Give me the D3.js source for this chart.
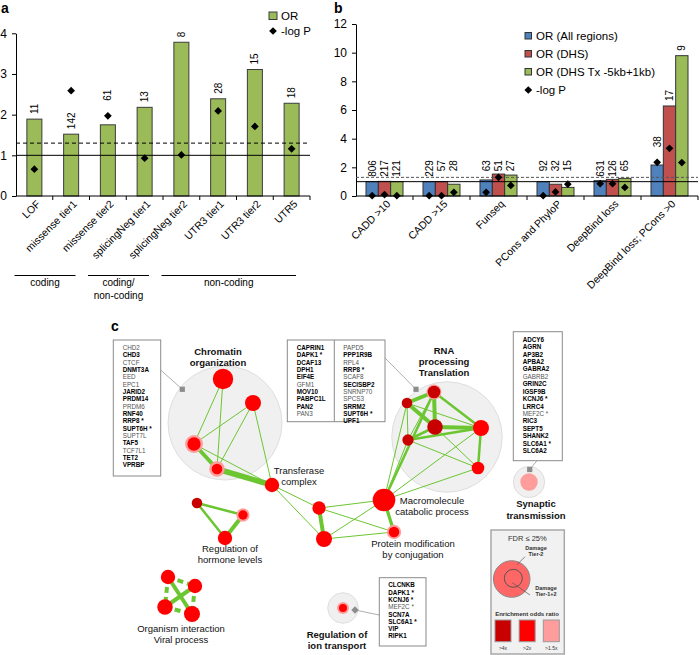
<!DOCTYPE html>
<html>
<head>
<meta charset="utf-8">
<script src="https://cdn.jsdelivr.net/npm/d3@7"></script>
<style>
body { margin: 0; background: #fff; }
text { font-family: "Liberation Sans", Arial, sans-serif; }
</style>
</head>
<body>
<script>
const width = 700;
const height = 655;

// ---------- panel a data
const catsA = ["LOF", "missense tier1", "missense tier2", "splicingNeg tier1", "splicingNeg tier2", "UTR3 tier1", "UTR3 tier2", "UTR5"];
const orA = [1.89, 1.52, 1.75, 2.18, 3.78, 2.39, 3.11, 2.28];
const logpA = [0.66, 2.59, 1.97, 0.93, 1.01, 2.09, 1.71, 1.16];
const countA = [11, 142, 61, 13, 8, 28, 15, 18];
const groupLabelsA = [["coding"], ["coding/", "non-coding"], ["non-coding"]];
const groupSpanA = [[0, 1], [2, 3], [4, 7]];

// ---------- panel b data
const catsB = ["CADD >10", "CADD >15", "Funseq", "PCons and PhyloP", "DeepBind loss", "DeepBind loss; PCons >0"];
const seriesB = ["OR (All regions)", "OR (DHS)", "OR (DHS Tx -5kb+1kb)"];
const orAll = [1.0, 1.0, 1.12, 1.0, 1.07, 2.16];
const orDHS = [1.02, 1.0, 1.53, 0.82, 1.16, 6.28];
const orTx = [1.0, 0.82, 1.46, 0.6, 1.23, 9.79];
const logpAll = [0.02, 0.02, 0.26, 0.02, 0.86, 2.35];
const logpDHS = [0.1, 0.02, 1.3, 0.28, 0.86, 3.33];
const logpTx = [0.02, 0.26, 0.74, 0.82, 0.6, 2.33];
const countAll = [806, 229, 63, 92, 631, 38];
const countDHS = [217, 57, 51, 32, 126, 17];
const countTx = [121, 28, 27, 15, 65, 9];

// reference lines: OR = 1, -log P = 1.3 (P = 0.05)
const refLines = [1, 1.3];

// ---------- panel c data (network layout units, gene counts, enrichment class)
const nodes = [
  {id: "c1", x: 123, y: 69, n: 26, col: "2x"},
  {id: "c2", x: 153, y: 93, n: 16, col: "2x"},
  {id: "c3", x: 94, y: 134, n: 11, col: "2x", n2: 20, col2: "1.5x"},
  {id: "c4", x: 117, y: 159, n: 7, col: "2x", n2: 15, col2: "1.5x"},
  {id: "t1", x: 172, y: 175, n: 13, col: "2x"},
  {id: "r1", x: 334, y: 82, n: 10, col: "4x", n2: 14, col2: "1.5x"},
  {id: "r2", x: 307, y: 93, n: 7, col: "4x"},
  {id: "r3", x: 335, y: 117, n: 15, col: "4x"},
  {id: "r4", x: 308, y: 130, n: 8, col: "4x"},
  {id: "r5", x: 381, y: 118, n: 16, col: "2x"},
  {id: "r6", x: 378, y: 158, n: 10, col: "2x"},
  {id: "m1", x: 284, y: 190, n: 32, col: "2x"},
  {id: "p1", x: 219, y: 198, n: 11, col: "2x"},
  {id: "p2", x: 224, y: 229, n: 16, col: "2x"},
  {id: "pm", x: 294, y: 222, n: 7, col: "2x", n2: 13, col2: "1.5x"},
  {id: "h1", x: 97, y: 193, n: 7, col: "4x"},
  {id: "h2", x: 143, y: 205, n: 5.5, col: "2x", n2: 11, col2: "1.5x"},
  {id: "h3", x: 125, y: 228, n: 13, col: "2x"},
  {id: "o1", x: 68, y: 267, n: 13, col: "2x"},
  {id: "o2", x: 95, y: 276, n: 13, col: "2x"},
  {id: "o3", x: 65, y: 297, n: 15, col: "2x"},
  {id: "o4", x: 92, y: 304, n: 16, col: "2x"},
  {id: "i1", x: 243, y: 298, n: 4, col: "2x", n2: 9, col2: "1.5x"},
  {id: "s1", x: 429, y: 172, n: 19, col: "1.5x"}
];
// [source, target, overlap weight, dashed]
const links = [
  ["c1", "c3", 1], ["c1", "c4", 1], ["c2", "c3", 1], ["c2", "c4", 1], ["c2", "t1", 1],
  ["c3", "c4", 3], ["c4", "t1", 4], ["c3", "t1", 1],
  ["t1", "p1", 1], ["t1", "p2", 1], ["p1", "p2", 3], ["p1", "m1", 1], ["p1", "pm", 1],
  ["p2", "m1", 1], ["p2", "pm", 1], ["m1", "pm", 2.5],
  ["m1", "r1", 2], ["m1", "r2", 1], ["m1", "r4", 1], ["m1", "r5", 1], ["m1", "r6", 1],
  ["r1", "r2", 3], ["r1", "r3", 3], ["r1", "r5", 2], ["r1", "r4", 1], ["r2", "r3", 3],
  ["r2", "r5", 1], ["r2", "r4", 1], ["r3", "r5", 3], ["r3", "r4", 2], ["r4", "r5", 2],
  ["r4", "r6", 1], ["r3", "r6", 1], ["r5", "r6", 2],
  ["h1", "h2", 2], ["h1", "h3", 2], ["h2", "h3", 3],
  ["o1", "o4", 3], ["o2", "o3", 3],
  ["o1", "o2", 3, true], ["o1", "o3", 3, true], ["o2", "o4", 3, true], ["o3", "o4", 3, true]
];
// cluster halos: centre and gene count of the halo
const clusterHalos = [
  {x: 125, y: 113, n: 810},
  {x: 347, y: 127, n: 760},
  {x: 243, y: 298, n: 58},
  {x: 429, y: 172, n: 61}
];
const clusterLabels = [
  {lines: ["Chromatin", "organization"], x: 118, y: 45, bold: true},
  {lines: ["RNA", "processing", "Translation"], x: 344, y: 44, bold: true},
  {lines: ["Transferase", "complex"], x: 199, y: 164},
  {lines: ["Macromolecule", "catabolic process"], x: 332, y: 193.5},
  {lines: ["Protein modification", "by conjugation"], x: 313, y: 237},
  {lines: ["Regulation of", "hormone levels"], x: 130, y: 242},
  {lines: ["Organism interaction", "Viral process"], x: 81, y: 321.5},
  {lines: ["Regulation of", "ion transport"], x: 237, y: 327.5, bold: true},
  {lines: ["Synaptic", "transmission"], x: 436, y: 196.5, bold: true, step: 12}
];

// gene lists (1 = bold)
const chromGenes = [["CHD2", 0], ["CHD3", 1], ["CTCF", 0], ["DNMT3A", 1], ["EED", 0], ["EPC1", 0], ["JARID2", 1], ["PRDM14", 1], ["PRDM6", 0], ["RNF40", 1], ["RRP8 *", 1], ["SUPT6H *", 1], ["SUPT7L", 0], ["TAF5", 1], ["TCF7L1", 0], ["TET2", 1], ["VPRBP", 1]];
const rnaGenesL = [["CAPRIN1", 1], ["DAPK1 *", 1], ["DCAF13", 1], ["DPH1", 1], ["EIF4E", 1], ["GFM1", 0], ["MOV10", 1], ["PABPC1L", 1], ["PAN2", 1], ["PAN3", 0]];
const rnaGenesR = [["PAPD5", 0], ["PPP1R9B", 1], ["RPL4", 0], ["RRP8 *", 1], ["SCAF8", 0], ["SECISBP2", 1], ["SNRNP70", 0], ["SPCS3", 0], ["SRRM2", 1], ["SUPT6H *", 1], ["UPF1", 1]];
const synGenes = [["ADCY6", 1], ["AGRN", 1], ["AP3B2", 1], ["APBA2", 1], ["GABRA2", 1], ["GABRB2", 0], ["GRIN2C", 1], ["IGSF9B", 1], ["KCNJ6 *", 1], ["LRRC4", 1], ["MEF2C *", 0], ["RIC3", 1], ["SEPT5", 1], ["SHANK2", 1], ["SLC6A1 *", 1], ["SLC6A2", 1]];
const ionGenes = [["CLCNKB", 1], ["DAPK1 *", 1], ["KCNJ6 *", 1], ["MEF2C *", 0], ["SCN7A", 1], ["SLC6A1 *", 1], ["VIP", 1], ["RIPK1", 1]];

const enrichKeys = ["4x", "2x", "1.5x"];
const enrichLabels = [">4x", ">2x", ">1.5x"];

// ---------- svg
const svg = d3.select("body")
  .append("svg")
  .attr("width", width)
  .attr("height", height);

svg.append("rect").attr("width", width).attr("height", height).attr("fill", "#fff");

const letter = (t, x, y) => svg.append("text").attr("x", x).attr("y", y)
  .attr("font-size", 14).attr("font-weight", "bold").text(t);
letter("a", 1, 13);
letter("b", 334, 13);
letter("c", 111, 331);

const green = "#9bbb59";
const diamond = d3.symbol(d3.symbolSquare, 30);

function styleAxis(g) {
  g.attr("font-family", '"Liberation Sans", Arial, sans-serif').attr("font-size", 12);
}

// =============== panel a
const xa = d3.scaleBand().domain(catsA).range([16, 310]);
const ya = d3.scaleLinear().domain([0, 4]).range([196, 33.3]);
const ga = svg.append("g");

ga.append("g")
  .attr("transform", "translate(16,0)")
  .call(d3.axisLeft(ya).ticks(4).tickSize(4).tickSizeOuter(0).tickPadding(5).tickFormat(d3.format("d")))
  .call(styleAxis);

const bwA = 15;
ga.selectAll(".bar")
  .data(catsA)
  .join("rect")
  .attr("x", d => xa(d) + (xa.bandwidth() - bwA) / 2)
  .attr("y", (d, i) => ya(orA[i]))
  .attr("width", bwA)
  .attr("height", (d, i) => ya(0) - ya(orA[i]))
  .attr("fill", green)
  .attr("stroke", "#3c3c3c")
  .attr("stroke-width", 1);

ga.append("line").attr("x1", 16).attr("x2", 310).attr("y1", ya(0)).attr("y2", ya(0)).attr("stroke", "#000");
ga.selectAll(".xt")
  .data(catsA.map(c => xa(c) + xa.bandwidth()))
  .join("line")
  .attr("x1", d => d).attr("x2", d => d)
  .attr("y1", ya(0)).attr("y2", ya(0) + 4)
  .attr("stroke", "#000");

ga.selectAll(".ref")
  .data(refLines)
  .join("line")
  .attr("x1", 16).attr("x2", 310)
  .attr("y1", d => ya(d)).attr("y2", d => ya(d))
  .attr("stroke", "#000")
  .attr("stroke-width", 1)
  .attr("stroke-dasharray", (d, i) => i ? "4,3" : null);

ga.selectAll(".dia")
  .data(catsA)
  .join("path")
  .attr("d", diamond)
  .attr("transform", (d, i) => `translate(${xa(d) + xa.bandwidth() / 2},${ya(logpA[i])}) rotate(45)`)
  .attr("fill", "#000");

ga.selectAll(".cnt")
  .data(catsA)
  .join("text")
  .attr("transform", (d, i) => {
    const top = ya(orA[i]);
    const dy = ya(logpA[i]);
    const base = (dy < top && dy > top - 20) ? dy - 10 : top;
    return `translate(${xa(d) + xa.bandwidth() / 2 + 3.5},${base - 5}) rotate(-90)`;
  })
  .attr("font-size", 10)
  .text((d, i) => countA[i]);

ga.selectAll(".xl")
  .data(catsA)
  .join("text")
  .attr("transform", d => `translate(${xa(d) + xa.bandwidth() / 2 + 4},${ya(0) + 6}) rotate(-45)`)
  .attr("text-anchor", "end")
  .attr("dy", "0.35em")
  .attr("font-size", 10.5)
  .text(d => d);

groupSpanA.forEach(([a, b], i) => {
  const x1 = xa(catsA[a]) - 1.5;
  const x2 = xa(catsA[b]) + xa.bandwidth() - 14;
  ga.append("line").attr("x1", x1).attr("x2", x2).attr("y1", 275.5).attr("y2", 275.5).attr("stroke", "#000");
  ga.append("text")
    .attr("x", (x1 + x2) / 2)
    .attr("y", 286)
    .attr("text-anchor", "middle")
    .attr("font-size", 10)
    .selectAll("tspan")
    .data(groupLabelsA[i])
    .join("tspan")
    .attr("x", (x1 + x2) / 2)
    .attr("dy", (d, j) => j ? 12.5 : 0)
    .text(d => d);
});

// legend a
ga.append("rect").attr("x", 269).attr("y", 12).attr("width", 8).attr("height", 7.5)
  .attr("fill", green).attr("stroke", "#3c3c3c");
ga.append("text").attr("x", 281).attr("y", 19.5).attr("font-size", 11.5).text("OR");
ga.append("path").attr("d", diamond).attr("transform", "translate(273,31) rotate(45)").attr("fill", "#000");
ga.append("text").attr("x", 281).attr("y", 35).attr("font-size", 11.5).text("-log P");

// =============== panel b
const xb = d3.scaleBand().domain(catsB).range([356, 698]);
const xs = d3.scaleBand().domain(seriesB).range([10, 47]);
const yb = d3.scaleLinear().domain([0, 12]).range([196, 24]);
const colorB = d3.scaleOrdinal().domain(seriesB).range(["#4f81bd", "#c0504d", green]);
const orB = [orAll, orDHS, orTx];
const logpB = [logpAll, logpDHS, logpTx];
const countB = [countAll, countDHS, countTx];

const flatB = [];
catsB.forEach((c, i) => seriesB.forEach((s, k) => {
  flatB.push({c, s, or: orB[k][i], p: logpB[k][i], n: countB[k][i]});
}));

const gb = svg.append("g");
gb.append("g")
  .attr("transform", "translate(356,0)")
  .call(d3.axisLeft(yb).ticks(6).tickSize(4).tickSizeOuter(0).tickPadding(5))
  .call(styleAxis);

gb.selectAll(".bar")
  .data(flatB)
  .join("rect")
  .attr("x", d => xb(d.c) + xs(d.s))
  .attr("y", d => yb(d.or))
  .attr("width", xs.bandwidth())
  .attr("height", d => yb(0) - yb(d.or))
  .attr("fill", d => colorB(d.s))
  .attr("stroke", "#333")
  .attr("stroke-width", 1);

gb.append("line").attr("x1", 356).attr("x2", 698).attr("y1", yb(0)).attr("y2", yb(0)).attr("stroke", "#000");
gb.selectAll(".xt")
  .data(catsB.map(c => xb(c) + xb.bandwidth()))
  .join("line")
  .attr("x1", d => d).attr("x2", d => d)
  .attr("y1", yb(0)).attr("y2", yb(0) + 4)
  .attr("stroke", "#000");

gb.selectAll(".ref")
  .data(refLines)
  .join("line")
  .attr("x1", 356).attr("x2", 698)
  .attr("y1", d => yb(d)).attr("y2", d => yb(d))
  .attr("stroke", (d, i) => i ? "#555" : "#000")
  .attr("stroke-width", 1)
  .attr("stroke-dasharray", (d, i) => i ? "3,2" : null);

gb.selectAll(".dia")
  .data(flatB)
  .join("path")
  .attr("d", diamond)
  .attr("transform", d => `translate(${xb(d.c) + xs(d.s) + xs.bandwidth() / 2},${yb(d.p)}) rotate(45)`)
  .attr("fill", "#000");

gb.selectAll(".cnt")
  .data(flatB)
  .join("text")
  .attr("transform", d => {
    const cxp = xb(d.c) + xs(d.s) + xs.bandwidth() / 2 + 3.5;
    if (d.or < 2) return `translate(${cxp},${yb(2.5)}) rotate(-90)`;
    const top = yb(d.or);
    const dy = yb(d.p);
    const base = (dy < top && dy > top - 20) ? dy - 10 : top;
    return `translate(${cxp},${base - 5}) rotate(-90)`;
  })
  .attr("text-anchor", d => d.or < 2 ? "end" : "start")
  .attr("font-size", 10)
  .text(d => d.n);

gb.selectAll(".xl")
  .data(catsB)
  .join("text")
  .attr("transform", d => `translate(${xb(d) + xb.bandwidth() / 2 + 4},${yb(0) + 6}) rotate(-45)`)
  .attr("text-anchor", "end")
  .attr("dy", "0.35em")
  .attr("font-size", 10.5)
  .text(d => d);

// legend b
const legB = gb.append("g").attr("transform", "translate(525,0)");
const legRows = seriesB.concat(["-log P"]);
const legY = d3.scalePoint().domain(legRows).range([36, 90]);
legB.selectAll("rect")
  .data(seriesB)
  .join("rect")
  .attr("x", 0).attr("y", d => legY(d) - 3.5)
  .attr("width", 6.5).attr("height", 6.5)
  .attr("fill", d => colorB(d)).attr("stroke", "#333");
legB.append("path").attr("d", diamond)
  .attr("transform", `translate(3.3,${legY("-log P")}) rotate(45)`).attr("fill", "#000");
legB.selectAll("text")
  .data(legRows)
  .join("text")
  .attr("x", 11).attr("y", d => legY(d) + 4)
  .attr("font-size", 11.5)
  .text(d => d);

// =============== panel c
const cx = d3.scaleLinear().domain([0, 470]).range([100, 570]);
const cy = d3.scaleLinear().domain([0, 345]).range([310, 655]);
const rScale = d3.scaleSqrt().domain([0, 32]).range([0, 11.3]);
const haloScale = d3.scaleSqrt().domain([0, 810]).range([0, 57]);
const enrichColor = d3.scaleOrdinal().domain(enrichKeys).range(["#c80000", "#ff0000", "#ff9c9c"]);
const edgeWidth = d3.scaleLinear().domain([1, 4]).range([1, 5.5]);
const edgeGreen = "#6cc631";
const byId = new Map(nodes.map(d => [d.id, d]));

const gc = svg.append("g");

gc.selectAll(".halo")
  .data(clusterHalos)
  .join("circle")
  .attr("cx", d => cx(d.x)).attr("cy", d => cy(d.y))
  .attr("r", d => haloScale(d.n))
  .attr("fill", "#f0f0f0")
  .attr("stroke", "#dedede");

// gene boxes and connectors
function connector(x1, y1, x2, y2, marker) {
  gc.append("line")
    .attr("x1", cx(x1)).attr("y1", cy(y1)).attr("x2", cx(x2)).attr("y2", cy(y2))
    .attr("stroke", "#9a9a9a").attr("stroke-width", 0.8);
  gc.append("rect")
    .attr("x", cx(x2) - 2.6).attr("y", cy(y2) - 2.6).attr("width", 5.2).attr("height", 5.2)
    .attr("fill", "#8c8c8c")
    .attr("transform", marker ? `rotate(45,${cx(x2)},${cy(y2)})` : null);
}
connector(60.7, 60, 82.3, 79.3);
connector(285, 48, 316, 79.3);
connector(437, 150.7, 429.7, 159.5);
connector(279.3, 305, 255, 300, true);

gc.selectAll(".edge")
  .data(links)
  .join("line")
  .attr("x1", d => cx(byId.get(d[0]).x)).attr("y1", d => cy(byId.get(d[0]).y))
  .attr("x2", d => cx(byId.get(d[1]).x)).attr("y2", d => cy(byId.get(d[1]).y))
  .attr("stroke", edgeGreen)
  .attr("stroke-width", d => edgeWidth(d[2]))
  .attr("stroke-dasharray", d => d[3] ? "6,4" : null);

gc.selectAll(".ring")
  .data(nodes.filter(d => d.n2))
  .join("circle")
  .attr("cx", d => cx(d.x)).attr("cy", d => cy(d.y))
  .attr("r", d => rScale(d.n2))
  .attr("fill", d => enrichColor(d.col2));

gc.selectAll(".node")
  .data(nodes)
  .join("circle")
  .attr("cx", d => cx(d.x)).attr("cy", d => cy(d.y))
  .attr("r", d => rScale(d.n))
  .attr("fill", d => enrichColor(d.col));

gc.selectAll(".clab")
  .data(clusterLabels)
  .join("text")
  .attr("text-anchor", "middle")
  .attr("font-size", 9.5)
  .attr("font-weight", d => d.bold ? "bold" : null)
  .attr("fill", "#111")
  .each(function(d) {
    d3.select(this).selectAll("tspan")
      .data(d.lines)
      .join("tspan")
      .attr("x", cx(d.x))
      .attr("y", (t, j) => cy(d.y) + j * (d.step || 11))
      .text(t => t);
  });

function geneBox(x0, y0, x1, y1, columns, firstY, step) {
  gc.append("rect")
    .attr("x", cx(x0)).attr("y", cy(y0))
    .attr("width", cx(x1) - cx(x0)).attr("height", cy(y1) - cy(y0))
    .attr("fill", "#fff").attr("stroke", "#8a8a8a").attr("stroke-width", 1);
  columns.forEach(([tx, genes], k) => {
    if (k > 0) {
      gc.append("line")
        .attr("x1", cx(tx - 9)).attr("x2", cx(tx - 9))
        .attr("y1", cy(y0)).attr("y2", cy(y1))
        .attr("stroke", "#8a8a8a");
    }
    gc.append("g").selectAll("text")
      .data(genes)
      .join("text")
      .attr("x", cx(tx))
      .attr("y", (d, i) => cy(firstY) + i * step)
      .attr("font-size", 6.3)
      .attr("font-weight", d => d[1] ? "bold" : null)
      .attr("fill", d => d[1] ? "#000" : "#555")
      .text(d => d[0]);
  });
}
geneBox(13.3, 30, 60.7, 166, [[22.7, chromGenes]], 40, 7.33);
geneBox(187.3, 30, 285, 111.7, [[196.7, rnaGenesL], [243.3, rnaGenesR]], 40, 7.33);
geneBox(413.3, 21.7, 462.3, 150.7, [[422.7, synGenes]], 31.7, 7.43);
geneBox(279.3, 267.7, 326, 336, [[288.3, ionGenes]], 277.3, 7.3);

// legend box
const lg = gc.append("g");
lg.append("rect")
  .attr("x", cx(391)).attr("y", cy(220))
  .attr("width", cx(464.3) - cx(391)).attr("height", cy(344) - cy(220))
  .attr("fill", "#f1f1f1").attr("stroke", "#a8a8a8").attr("stroke-width", 1.5);
lg.append("text").attr("x", cx(427.3)).attr("y", cy(230.5))
  .attr("text-anchor", "middle").attr("font-size", 7.5).attr("fill", "#333")
  .text("FDR \u2264 25%");
lg.append("circle").attr("cx", cx(411.7)).attr("cy", cy(269)).attr("r", 18.3)
  .attr("fill", "#ff6666").attr("stroke", "#8a8a8a");
lg.append("circle").attr("cx", cx(413.3)).attr("cy", cy(268.3)).attr("r", 9)
  .attr("fill", "none").attr("stroke", "#555");
lg.append("line").attr("x1", cx(416.7)).attr("y1", cy(255)).attr("x2", cx(425)).attr("y2", cy(246.7)).attr("stroke", "#555").attr("stroke-width", 0.7);
lg.append("line").attr("x1", cx(412.3)).attr("y1", cy(272.7)).attr("x2", cx(430)).attr("y2", cy(285)).attr("stroke", "#555").attr("stroke-width", 0.7);
[[436, 239.5, ["Damage", "Tier-2"]], [446, 279.5, ["Damage", "Tier-1+2"]]].forEach(([x, y, lines]) => {
  lg.append("text").attr("text-anchor", "middle").attr("font-size", 5.5).attr("font-weight", "bold").attr("fill", "#333")
    .selectAll("tspan").data(lines).join("tspan")
    .attr("x", cx(x)).attr("y", (t, j) => cy(y) + j * 6.5).text(t => t);
});
lg.append("text").attr("x", cx(427)).attr("y", cy(305.5))
  .attr("text-anchor", "middle").attr("font-size", 6).attr("font-weight", "bold").attr("fill", "#333")
  .text("Enrichment odds ratio");
const legX = d3.scalePoint().domain(enrichKeys).range([cx(403), cx(451.3)]);
lg.selectAll(".sw")
  .data(enrichKeys)
  .join("rect")
  .attr("x", d => legX(d) - 8).attr("y", cy(310))
  .attr("width", 16).attr("height", 21.7)
  .attr("fill", d => enrichColor(d)).attr("stroke", "#999");
lg.selectAll(".swl")
  .data(enrichKeys)
  .join("text")
  .attr("x", d => legX(d)).attr("y", cy(340))
  .attr("text-anchor", "middle").attr("font-size", 5).attr("fill", "#333")
  .text((d, i) => enrichLabels[i]);
</script>
</body>
</html>
